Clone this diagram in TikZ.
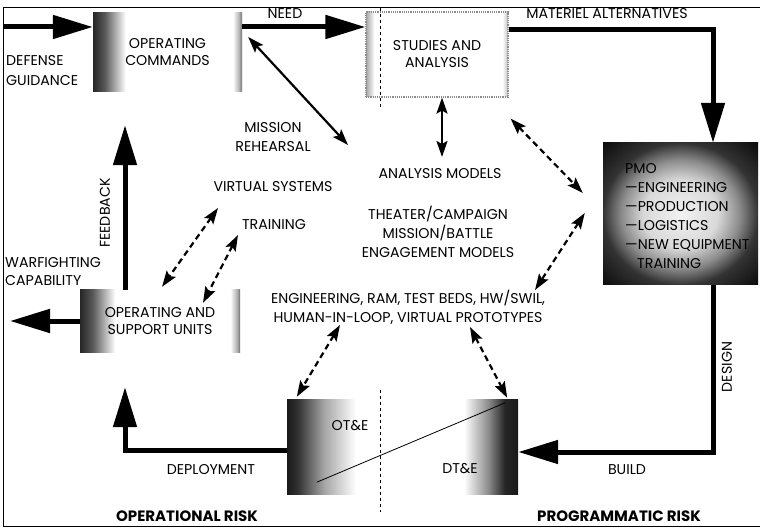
\documentclass[tikz,border=0pt]{standalone}
\usepackage{fontspec}
\setmainfont{Poppins}
\usetikzlibrary{arrows.meta}

\pgfdeclarehorizontalshading{darkleft}{100bp}{color(0bp)=(black!85); color(25bp)=(black!85); color(29bp)=(black!65); color(36bp)=(white); color(72bp)=(white); color(74bp)=(black!30); color(75bp)=(black!55); color(100bp)=(black!55)}
\pgfdeclarehorizontalshading{lightedge}{100bp}{color(0bp)=(black!35); color(25bp)=(black!35); color(28bp)=(white); color(73bp)=(white); color(75bp)=(black!25); color(100bp)=(black!25)}
\pgfdeclarehorizontalshading{otshade}{100bp}{color(0bp)=(black!90); color(25bp)=(black!90); color(31bp)=(black!80); color(45bp)=(black!35); color(62bp)=(white); color(100bp)=(white)}
\pgfdeclarehorizontalshading{dtshade}{100bp}{color(0bp)=(white); color(55bp)=(white); color(64bp)=(black!45); color(70bp)=(black!85); color(75bp)=(black!90); color(100bp)=(black!90)}
\pgfdeclareradialshading{pmoshade}{\pgfpoint{0bp}{0bp}}{color(0bp)=(black!5); color(12bp)=(black!15); color(19bp)=(black!45); color(25bp)=(black!80); color(35bp)=(black!95); color(50bp)=(black!95)}

\begin{document}
\begin{tikzpicture}[x=1pt,y=-1pt,font=\fontsize{14.2}{19}\selectfont,
    lbl/.style={inner sep=0pt,align=center},
    cmdbox/.style={shading=darkleft,inner sep=0pt,align=center,font=\fontsize{14.2}{17}\selectfont},
    studybox/.style={shading=lightedge,draw=black!45,densely dotted,line width=1.2pt,inner sep=0pt,align=center,font=\fontsize{14.2}{17}\selectfont},
    flow/.style={line width=5pt,-{Triangle[length=40pt,width=23pt]}},
    link/.style={line width=2.2pt,{Stealth[length=16pt,width=11pt,inset=3pt]}-{Stealth[length=16pt,width=11pt,inset=3pt]}},
    dlink/.style={link,dash pattern=on 6pt off 4pt},
    risk/.style={inner sep=0pt,font=\fontsize{15}{17}\selectfont\bfseries}]
  \fill[white] (0,0) rectangle (760,529);
  \useasboundingbox (0,0) rectangle (760,529);

  \node[cmdbox,minimum width=149pt,minimum height=79pt] (oc) at (167.5,52.5) {OPERATING\\COMMANDS};
  \node[studybox,minimum width=142pt,minimum height=85pt] (sa) at (437,54.5) {STUDIES AND\\ANALYSIS};
  \node[cmdbox,minimum width=160pt,minimum height=62pt] (osu) at (160,321) {OPERATING AND\\SUPPORT UNITS};
  \node[shading=pmoshade,minimum width=155pt,minimum height=142pt] (pmo) at (680.5,214) {};
  \node[lbl,anchor=west,align=left] (pmolist) at (625,216) {PMO\\—ENGINEERING\\—PRODUCTION\\—LOGISTICS\\—NEW EQUIPMENT\\\hspace{12pt}TRAINING};
  \node[shading=otshade,minimum width=93pt,minimum height=95pt] (ote) at (333.5,446.5) {};
  \node[shading=dtshade,minimum width=135pt,minimum height=95pt] (dte) at (450.5,446.5) {};
  \node[lbl] (otel) at (350,426) {OT\&E};
  \node[lbl] (dtel) at (460,469) {DT\&E};

  \node[lbl,anchor=west,align=left,font=\fontsize{14.2}{20}\selectfont] (guid) at (6,71) {DEFENSE\\GUIDANCE};
  \node[lbl,anchor=west,align=left,font=\fontsize{14.2}{18}\selectfont] (wfcap) at (5,272) {WARFIGHTING\\CAPABILITY};
  \node[lbl] (need) at (285,14) {NEED};
  \node[lbl] (mat) at (607,14) {MATERIEL ALTERNATIVES};
  \node[lbl] (mr) at (273,137) {MISSION\\REHEARSAL};
  \node[lbl] (vs) at (273,187) {VIRTUAL SYSTEMS};
  \node[lbl] (trn) at (274,225) {TRAINING};
  \node[lbl] (am) at (440,174) {ANALYSIS MODELS};
  \node[lbl] (thr) at (438,232) {THEATER/CAMPAIGN\\MISSION/BATTLE\\ENGAGEMENT MODELS};
  \node[lbl] (eng) at (408,307) {ENGINEERING, RAM, TEST BEDS, HW/SWIL,\\HUMAN-IN-LOOP, VIRTUAL PROTOTYPES};
  \node[lbl,rotate=90] (fb) at (105,213) {FEEDBACK};
  \node[lbl,rotate=90] (design) at (727,367) {DESIGN};
  \node[lbl] (build) at (627,470) {BUILD};
  \node[lbl] (deploy) at (211,470) {DEPLOYMENT};
  \node[risk] (oprisk) at (187,516) {OPERATIONAL RISK};
  \node[risk] (pgrisk) at (619,516) {PROGRAMMATIC RISK};

  \coordinate (gin) at (3,27);
  \coordinate (matc) at (713,30);
  \coordinate (buildc) at (713,452);
  \coordinate (depc) at (125,450);
  \coordinate (wf) at (10,321);

  \draw[flow] (gin) -- (gin -| oc.west);
  \draw[flow] (oc.east |- gin) -- (sa.west |- gin);
  \draw[flow] (sa.east |- matc) -- (matc) -- (pmo.north -| matc);
  \draw[flow] (pmo.south -| buildc) -- (buildc) -- (dte.east |- buildc);
  \draw[flow,shorten >=35pt] (ote.west |- depc) -- (depc) -- (osu.south -| depc);
  \draw[flow,shorten >=33pt] (osu.north -| depc) -- (oc.south -| depc);
  \draw[flow] (osu.west) -- (wf);

  \draw[link] ([shift={(6,-15.5)}]oc.east) -- ([shift={(75,8)}]mr.center);
  \draw[link] ([shift={(5,0)}]sa.south) -- ([shift={(2,-17)}]am.center);
  \draw[dlink] ([shift={(2,21)}]sa.south east) -- ([shift={(-20,-21)}]pmo.west);
  \draw[dlink] ([shift={(-18,-1)}]pmo.west) -- ([shift={(127,-17)}]eng.center);
  \draw[dlink] ([shift={(-55,21)}]vs.center) -- ([shift={(2,-3)}]osu.north);
  \draw[dlink] ([shift={(-36,10)}]trn.center) -- ([shift={(43,13)}]osu.north);
  \draw[dlink] ([shift={(-68,18)}]eng.center) -- ([shift={(10,-2)}]ote.north west);
  \draw[dlink] ([shift={(62,20)}]eng.center) -- ([shift={(-11,-1)}]dte.north east);
  \draw[line width=0.8pt] ([shift={(30,-12)}]ote.south west) -- ([shift={(-13,4)}]dte.north east);

  \draw[dashed,line width=0.8pt] (380,8) -- (380,108);
  \draw[dashed,line width=0.8pt] (380,390) -- (380,512);
  \draw[line width=0.8pt] (760,7.5) -- (3,7.5) -- (3,526) -- (760,526);
\end{tikzpicture}
\end{document}
